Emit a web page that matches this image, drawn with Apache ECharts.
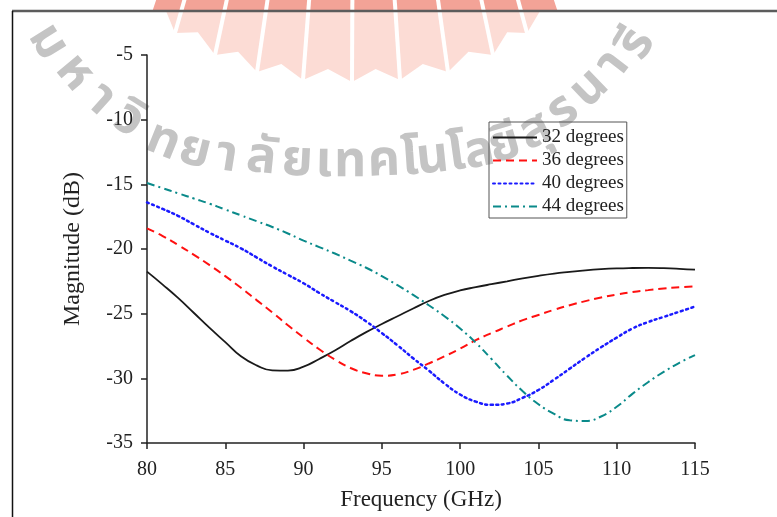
<!DOCTYPE html>
<html>
<head>
<meta charset="utf-8">
<script src="https://cdn.jsdelivr.net/npm/echarts@6/dist/echarts.min.js"></script>
<style>html,body{margin:0;padding:0;background:#fff;}#chart{width:777px;height:517px;}</style>
</head>
<body>
<div id="chart"></div>
<script>
// ---- data ----
const freq = [80,81,82,83,84,85,86,87,88,89,90,91,92,93,94,95,96,97,98,99,100,101,102,103,104,105,106,107,108,109,110,111,112,113,114,115];
const s32 = [-21.75,-22.75,-23.8,-24.95,-26.1,-27.2,-28.3,-29.0,-29.38,-29.4,-29.1,-28.5,-27.85,-27.12,-26.43,-25.8,-25.2,-24.6,-24.02,-23.55,-23.2,-22.95,-22.72,-22.5,-22.27,-22.07,-21.9,-21.77,-21.65,-21.56,-21.5,-21.47,-21.46,-21.48,-21.53,-21.6];
const s36 = [-18.4,-19.0,-19.7,-20.45,-21.25,-22.1,-23.0,-23.95,-24.9,-25.9,-26.85,-27.75,-28.55,-29.2,-29.6,-29.8,-29.7,-29.35,-28.85,-28.3,-27.7,-27.05,-26.5,-26.0,-25.5,-25.1,-24.7,-24.35,-24.03,-23.75,-23.52,-23.33,-23.18,-23.05,-22.96,-22.9];
const s40 = [-16.4,-16.9,-17.45,-18.1,-18.75,-19.35,-19.95,-20.65,-21.35,-22.0,-22.65,-23.4,-24.1,-24.8,-25.6,-26.5,-27.45,-28.45,-29.4,-30.4,-31.25,-31.8,-32.05,-31.95,-31.5,-30.9,-30.1,-29.25,-28.4,-27.6,-26.85,-26.15,-25.65,-25.25,-24.85,-24.45];
const s44 = [-14.9,-15.3,-15.7,-16.1,-16.5,-16.95,-17.4,-17.85,-18.3,-18.8,-19.35,-19.85,-20.35,-20.9,-21.45,-22.1,-22.8,-23.55,-24.35,-25.2,-26.15,-27.25,-28.5,-29.8,-31.0,-32.0,-32.75,-33.25,-33.3,-32.95,-32.2,-31.2,-30.3,-29.5,-28.8,-28.2];
const seriesNames = ['32 degrees','36 degrees','40 degrees','44 degrees'];
const xAxisName = 'Frequency (GHz)';
const yAxisName = 'Magnitude (dB)';
const watermarkText = ['ม','ห','า','วิ','ท','ย','า','ลั','ย','เ','ท','ค','โ','น','โ','ล','ยี','สุ','ร','น','า','รี'];

// ---- decoration (page frame, logo, watermark) ----
const serif = '"Liberation Serif","Times New Roman",serif';
const graphics = [];
const P = [[150,12],[175,33],[215,55],[257,72],[303,80],[352,82],[400,80],[448,72],[493,55],[527,33],[560,12]];
const V = [355,-600];
function topOf(p, yy){ const t=(p[1]-yy)/(p[1]-V[1]); return [p[0]+(V[0]-p[0])*t, yy]; }
for (let i=0;i<P.length-1;i++){
  const a=P[i], b=P[i+1];
  const ta=topOf(a,-5), tb=topOf(b,-5);
  const mx=(a[0]+b[0])/2, my=(a[1]+b[1])/2;
  const dx=V[0]-mx, dy=V[1]-my, dl=Math.hypot(dx,dy);
  const m=[mx+dx/dl*12, my+dy/dl*12];
  graphics.push({type:'polygon', z:0, silent:true, shape:{points:[ta,tb,b,m,a]}, style:{fill:'#fcdcd5'}});
  const la=topOf(a,11), lb=topOf(b,11);
  graphics.push({type:'polygon', z:0, silent:true, shape:{points:[ta,tb,lb,la]}, style:{fill:'#f3a397'}});
}
for (let i=0;i<P.length;i++){
  const t=topOf(P[i],-5);
  graphics.push({type:'line', z:0, silent:true, shape:{x1:t[0],y1:t[1],x2:P[i][0],y2:P[i][1]}, style:{stroke:'#fff',lineWidth:4}});
}
const wmPos = [[45,44,-58],[72,75,-50],[98,102,-42],[127,123,-32],[162,145,-22],[194,155,-14],[226,160,-9],[261,162,-6],[297,165,-3],[324,166,-1],[350,166,0],[384,165,2],[410,164,4],[433,162,6],[457,159,8],[480,156,11],[506,149,16],[537,135,25],[565,114,35],[592,91,44],[616,67,52],[640,46,58]];
watermarkText.forEach((ch,i)=>{
  const p=wmPos[i];
  graphics.push({type:'text', z:0, silent:true, x:p[0], y:p[1], rotation:p[2]*Math.PI/180,
    style:{text:ch, fill:'#c4c4c4', fontSize:50, fontWeight:'bold', fontFamily:'"Noto Sans Thai","Noto Sans",sans-serif', align:'center', verticalAlign:'middle'}});
});
graphics.push({type:'line', z:1, silent:true, shape:{x1:12,y1:11,x2:777,y2:11}, style:{stroke:'#5c5c5c',lineWidth:2.5}});
graphics.push({type:'line', z:1, silent:true, shape:{x1:12.5,y1:11,x2:12.5,y2:517}, style:{stroke:'#111',lineWidth:1.5}});

const chart = echarts.init(document.getElementById('chart'), null, {renderer:'canvas'});
function mk(name, data, color, type, width, cap){
  return {name:name, type:'line', data:freq.map((f,i)=>[f,data[i]]), smooth:true, symbol:'none', showSymbol:false,
    lineStyle:{color:color, width:width, type:type, cap:cap||'butt'}, itemStyle:{color:'rgba(0,0,0,0)', borderWidth:0}, z:3};
}
chart.setOption({
  animation:false,
  backgroundColor:'#fff',
  graphic:graphics,
  grid:{left:147, right:82, top:55, bottom:74, containLabel:false},
  legend:{
    orient:'vertical', left:489, top:122, padding:[6,3,2,3], itemGap:4, itemWidth:44, itemHeight:14,
    borderColor:'#555', borderWidth:1, backgroundColor:'rgba(255,255,255,0)',
    itemStyle:{opacity:0},
    textStyle:{fontFamily:serif, fontSize:19, color:'#222'},
    data:seriesNames
  },
  xAxis:{type:'value', min:80, max:115, interval:5,
    name:xAxisName, nameLocation:'middle', nameGap:45, nameTextStyle:{fontFamily:serif, fontSize:23, color:'#222'},
    axisLine:{show:true, onZero:false, lineStyle:{color:'#222', width:1.5}},
    axisTick:{show:true, inside:false, length:6, lineStyle:{color:'#222', width:1.5}},
    axisLabel:{fontFamily:serif, fontSize:20, color:'#222', margin:17},
    splitLine:{show:false}},
  yAxis:{type:'value', min:-35, max:-5, interval:5,
    name:yAxisName, nameLocation:'middle', nameGap:62, nameTextStyle:{fontFamily:serif, fontSize:24, color:'#222'},
    axisLine:{show:true, onZero:false, lineStyle:{color:'#222', width:1.5}},
    axisTick:{show:true, inside:false, length:6, lineStyle:{color:'#222', width:1.5}},
    axisLabel:{fontFamily:serif, fontSize:20, color:'#222', margin:14},
    splitLine:{show:false}},
  series:[
    mk(seriesNames[0], s32, '#1a1a1a', 'solid', 1.8),
    mk(seriesNames[1], s36, '#ff1010', [8,5], 2),
    mk(seriesNames[2], s40, '#1a1aff', [2,3.5], 2.5, 'round'),
    mk(seriesNames[3], s44, '#0a8a8a', [8,4,2,4], 2)
  ]
});
</script>
</body>
</html>
